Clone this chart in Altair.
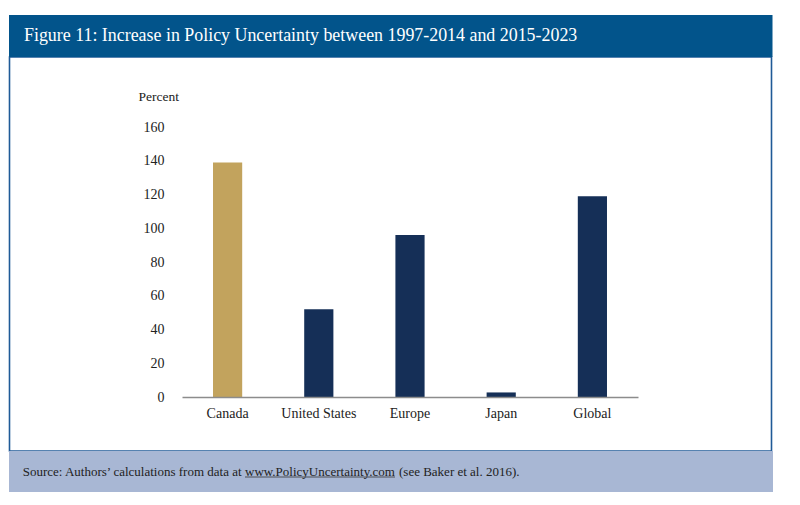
import altair as alt
import pandas as pd

countries = ["Canada", "United States", "Europe", "Japan", "Global"]
values = [139, 52, 96, 2.7, 119]
bar_colors = ["#c2a35d", "#152f57", "#152f57", "#152f57", "#152f57"]
y_ticks = [0, 20, 40, 60, 80, 100, 120, 140, 160]

title_text = "Figure 11: Increase in Policy Uncertainty between 1997-2014 and 2015-2023"
src_a = "Source: Authors\u2019 calculations from data at"
src_url = "www.PolicyUncertainty.com"
src_b = "(see Baker et al. 2016)."

FONT = "Liberation Serif"

df = pd.DataFrame({"Country": countries, "Value": values})
one = pd.DataFrame({"k": [0]})

W, H = 456, 270

def deco_rect(x, x2, y, y2, **kw):
    return alt.Chart(one).mark_rect(**kw).encode(
        x=alt.value(x), x2=alt.value(x2), y=alt.value(y), y2=alt.value(y2)
    )

def deco_text(x, y, txt, **kw):
    return alt.Chart(one).mark_text(font=FONT, align="left", baseline="middle", **kw).encode(
        x=alt.value(x), y=alt.value(y), text=alt.value(txt)
    )

frame = deco_rect(-172.5, 589.5, -70, 324, fill="white", stroke="#1f5a97", strokeWidth=1.6)
banner = deco_rect(-173, 590.5, -112, -70, fill="#02548b")
footer = deco_rect(-173, 591, 324, 365, fill="#a8b7d4")

bars = alt.Chart(df).mark_bar().encode(
    x=alt.X("Country:N", sort=countries,
            scale=alt.Scale(paddingInner=0.68, paddingOuter=0.34),
            axis=alt.Axis(title=None, labelAngle=0, labelFont=FONT, labelFontSize=14,
                          labelColor="#222222", labelPadding=9, ticks=False,
                          domainColor="#8c8c8c", domainWidth=1.6, zindex=1)),
    y=alt.Y("Value:Q", scale=alt.Scale(domain=[0, 160], nice=False),
            axis=alt.Axis(values=y_ticks, grid=False, domain=False, ticks=False,
                          labelFont=FONT, labelFontSize=14, labelColor="#222222",
                          labelPadding=18, title="Percent", titleAngle=0,
                          titleFont=FONT, titleFontSize=13.5, titleFontWeight="normal",
                          titleColor="#222222", titleAlign="left", titleBaseline="middle",
                          titleX=-44, titleY=-31, zindex=1)),
    color=alt.Color("Country:N", scale=alt.Scale(domain=countries, range=bar_colors), legend=None),
)

title = deco_text(-158, -91, title_text, fontSize=17.9, color="white")
s1 = deco_text(-159.3, 344.5, src_a, fontSize=13, color="#222222")
s2 = deco_text(63, 344.5, src_url, fontSize=13, color="#222222")
s3 = deco_text(217, 344.5, src_b, fontSize=13, color="#222222")
uline = alt.Chart(one).mark_rule(color="#333333", strokeWidth=0.8).encode(
    x=alt.value(63), x2=alt.value(213), y=alt.value(350)
)

chart = alt.layer(frame, banner, footer, bars, title, s1, s2, s3, uline).properties(
    width=W, height=H,
    autosize=alt.AutoSizeParams(type="none"),
    padding={"left": 174, "top": 119, "right": 154, "bottom": 100},
    background="white",
).configure_view(stroke=None)

chart.save("out.html", embed_options={"renderer": "svg", "actions": False})
